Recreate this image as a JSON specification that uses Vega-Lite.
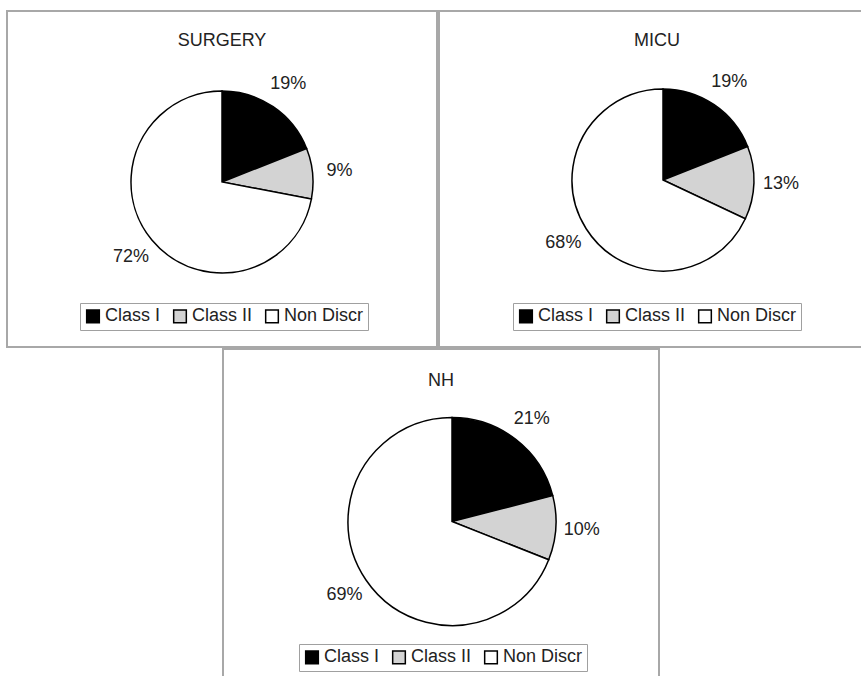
{
  "$schema": "https://vega.github.io/schema/vega-lite/v6.json",
  "padding": {"left": 6, "top": 10, "right": -13, "bottom": 0},
  "background": "white",
  "datasets": {
    "pies": [
      {"panel": "SURGERY", "category": "Class I", "share": 0.19},
      {"panel": "SURGERY", "category": "Class II", "share": 0.09},
      {"panel": "SURGERY", "category": "Non Discr", "share": 0.72},
      {"panel": "MICU", "category": "Class I", "share": 0.19},
      {"panel": "MICU", "category": "Class II", "share": 0.13},
      {"panel": "MICU", "category": "Non Discr", "share": 0.68},
      {"panel": "NH", "category": "Class I", "share": 0.21},
      {"panel": "NH", "category": "Class II", "share": 0.10},
      {"panel": "NH", "category": "Non Discr", "share": 0.69}
    ]
  },
  "config": {
    "view": {"stroke": "#a8a8a8", "strokeWidth": 2},
    "font": "Liberation Sans",
    "title": {"fontSize": 18, "fontWeight": "normal", "color": "#222222", "font": "Liberation Sans", "anchor": "middle", "baseline": "top"},
    "legend": {
      "labelFontSize": 18, "labelFont": "Liberation Sans", "labelColor": "#222222",
      "symbolType": "square", "symbolSize": 160, "symbolStrokeColor": "black", "symbolStrokeWidth": 1.5,
      "strokeColor": "#a0a0a0", "padding": 4, "columnPadding": 9, "labelOffset": 3
    },
    "concat": {"spacing": 0}
  },
  "spacing": 0,
  "center": true,
  "resolve": {"scale": {"color": "independent", "theta": "independent"}, "legend": {"color": "independent"}},
  "vconcat": [
    {
      "spacing": 0,
      "resolve": {"scale": {"color": "independent", "theta": "independent"}, "legend": {"color": "independent"}},
      "hconcat": [
        {
          "width": 430, "height": 336,
          "view": {"stroke": "#a8a8a8", "strokeWidth": 2, "fill": "white"},
          "title": {"text": "SURGERY", "offset": -39},
          "data": {"name": "pies"},
          "transform": [{"filter": "datum.panel === 'SURGERY'"}],
          "encoding": {
            "theta": {"field": "share", "type": "quantitative", "stack": true},
            "order": {"field": "category", "sort": "ascending"},
            "color": {"field": "category", "type": "nominal",
              "scale": {"domain": ["Class I", "Class II", "Non Discr"], "range": ["#000000", "#d3d3d3", "#ffffff"]},
              "legend": {"orient": "none", "legendX": 73, "legendY": 292, "direction": "horizontal", "title": null}}
          },
          "layer": [
            {"mark": {"type": "arc", "outerRadius": 91, "stroke": "black", "strokeWidth": 1.5, "yOffset": 3}},
            {"mark": {"type": "text", "radius": 118, "fontSize": 18, "yOffset": 3, "font": "Liberation Sans"},
             "encoding": {"text": {"field": "share", "format": ".0%"}, "color": {"value": "#222222"}}}
          ]
        },
        {
          "width": 436, "height": 336,
          "view": {"stroke": "#a8a8a8", "strokeWidth": 2, "fill": "white"},
          "title": {"text": "MICU", "offset": -39},
          "data": {"name": "pies"},
          "transform": [{"filter": "datum.panel === 'MICU'"}],
          "encoding": {
            "theta": {"field": "share", "type": "quantitative", "stack": true},
            "order": {"field": "category", "sort": "ascending"},
            "color": {"field": "category", "type": "nominal",
              "scale": {"domain": ["Class I", "Class II", "Non Discr"], "range": ["#000000", "#d3d3d3", "#ffffff"]},
              "legend": {"orient": "none", "legendX": 74, "legendY": 292, "direction": "horizontal", "title": null}}
          },
          "layer": [
            {"mark": {"type": "arc", "outerRadius": 91, "stroke": "black", "strokeWidth": 1.5, "xOffset": 6, "yOffset": 1}},
            {"mark": {"type": "text", "radius": 118, "fontSize": 18, "xOffset": 6, "yOffset": 1, "font": "Liberation Sans"},
             "encoding": {"text": {"field": "share", "format": ".0%"}, "color": {"value": "#222222"}}}
          ]
        }
      ]
    },
    {
      "width": 436, "height": 329,
      "view": {"stroke": "#a8a8a8", "strokeWidth": 2, "fill": "white"},
      "title": {"text": "NH", "offset": -41},
      "data": {"name": "pies"},
      "transform": [{"filter": "datum.panel === 'NH'"}],
      "encoding": {
        "theta": {"field": "share", "type": "quantitative", "stack": true},
        "order": {"field": "category", "sort": "ascending"},
        "color": {"field": "category", "type": "nominal",
          "scale": {"domain": ["Class I", "Class II", "Non Discr"], "range": ["#000000", "#d3d3d3", "#ffffff"]},
          "legend": {"orient": "none", "legendX": 76, "legendY": 295, "direction": "horizontal", "title": null}}
      },
      "layer": [
        {"mark": {"type": "arc", "outerRadius": 104, "stroke": "black", "strokeWidth": 1.5, "xOffset": 11, "yOffset": 8}},
        {"mark": {"type": "text", "radius": 130, "fontSize": 18, "xOffset": 11, "yOffset": 8, "font": "Liberation Sans"},
         "encoding": {"text": {"field": "share", "format": ".0%"}, "color": {"value": "#222222"}}}
      ]
    }
  ]
}
